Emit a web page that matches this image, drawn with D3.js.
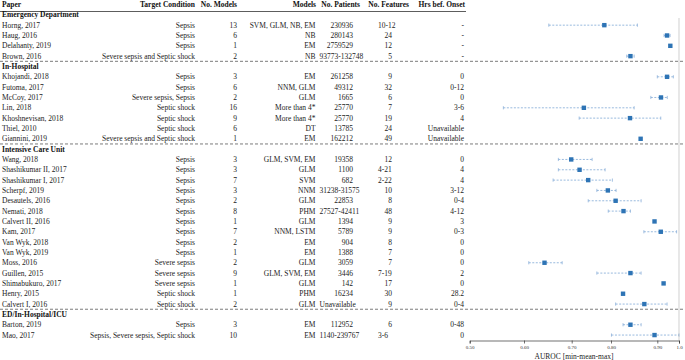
<!DOCTYPE html>
<html>
<head>
<meta charset="utf-8">
<script src="https://cdn.jsdelivr.net/npm/d3@7"></script>
<style>
  body { margin: 0; background: #fff; }
  svg { display: block; font-family: "Liberation Serif", "Times New Roman", serif; }
  .cell { font-size: 7.5px; fill: #222; }
  .hdr { font-size: 7.5px; font-weight: bold; fill: #111; }
  .grp { font-size: 7.5px; font-weight: bold; fill: #111; }
</style>
</head>
<body>
<svg width="685" height="360"></svg>
<script>
// table groups and rows (in drawing order)
let groupNames = ["Emergency Department", "In-Hospital", "Intensive Care Unit", "ED/In-Hospital/ICU"];
let groupSizes = [4, 7, 15, 2];

let papers = ["Horng, 2017", "Haug, 2016", "Delahanty, 2019", "Brown, 2016",
  "Khojandi, 2018", "Futoma, 2017", "McCoy, 2017", "Lin, 2018", "Khoshnevisan, 2018", "Thiel, 2010", "Giannini, 2019",
  "Wang, 2018", "Shashikumar II, 2017", "Shashikumar I, 2017", "Scherpf, 2019", "Desautels, 2016", "Nemati, 2018",
  "Calvert II, 2016", "Kam, 2017", "Van Wyk, 2018", "Van Wyk, 2019", "Moss, 2016", "Guillen, 2015", "Shimabukuro, 2017",
  "Henry, 2015", "Calvert I, 2016",
  "Barton, 2019", "Mao, 2017"];
let conditions = ["Sepsis", "Sepsis", "Sepsis", "Severe sepsis and Septic shock",
  "Sepsis", "Sepsis", "Severe sepsis, Sepsis", "Septic shock", "Septic shock", "Septic shock", "Severe sepsis and Septic shock",
  "Sepsis", "Sepsis", "Sepsis", "Sepsis", "Sepsis", "Sepsis", "Sepsis", "Sepsis", "Sepsis", "Sepsis",
  "Severe sepsis", "Severe sepsis", "Severe sepsis", "Septic shock", "Septic shock",
  "Sepsis", "Sepsis, Severe sepsis, Septic shock"];
let nModels = ["13", "6", "1", "2", "3", "6", "2", "16", "9", "6", "1",
  "3", "3", "7", "3", "2", "8", "1", "7", "2", "1", "2", "9", "1", "1", "2", "3", "10"];
let models = ["SVM, GLM, NB, EM", "NB", "EM", "NB",
  "EM", "NNM, GLM", "GLM", "More than 4*", "More than 4*", "DT", "EM",
  "GLM, SVM, EM", "GLM", "SVM", "NNM", "GLM", "PHM", "GLM", "NNM, LSTM", "EM", "EM", "GLM", "GLM, SVM, EM",
  "GLM", "PHM", "GLM", "EM", "EM"];
let nPatients = ["230936", "280143", "2759529", "93773-132748",
  "261258", "49312", "1665", "25770", "25770", "13785", "162212",
  "19358", "1100", "682", "31238-31575", "22853", "27527-42411", "1394", "5789", "904", "1388", "3059", "3446",
  "142", "16234", "Unavailable", "112952", "1140-239767"];
let nFeatures = ["10-12", "24", "12", "5",
  "9", "32", "6", "7", "19", "24", "49",
  "12", "4-21", "2-22", "10", "8", "48", "9", "9", "8", "7", "7", "7-19", "17", "30", "9", "6", "3-6"];
let hrsOnset = ["-", "-", "-", "-",
  "0", "0-12", "0", "3-6", "4", "Unavailable", "Unavailable",
  "0", "4", "4", "3-12", "0-4", "4-12", "3", "0-3", "0", "0", "0", "2", "0", "28.2", "0-4", "0-48", "0"];

// AUROC min / mean / max (null = not reported)
let aurocMin = [0.652, 0.931, null, 0.834,
  0.900, null, 0.886, 0.562, 0.719, null, null,
  0.672, 0.672, 0.661, 0.764, 0.742, 0.793, null, 0.871, null, null, 0.610, 0.764, null, null, 0.810,
  0.826, 0.801];
let aurocMean = [0.783, 0.945, 0.960, 0.842,
  0.945, null, 0.917, 0.731, 0.841, null, 0.864,
  0.699, 0.720, 0.742, 0.792, 0.810, 0.827, 0.894, 0.916, null, null, 0.643, 0.842, 0.929, 0.826, 0.872,
  0.842, 0.894];
let aurocMax = [0.857, 0.959, null, 0.850,
  0.974, null, 0.946, 0.850, 0.916, null, null,
  0.752, 0.785, 0.803, 0.811, 0.865, 0.842, null, 0.989, null, null, 0.680, 0.865, null, null, 0.945,
  0.865, 1.0];

let xTicks = [0.5, 0.6, 0.7, 0.8, 0.9, 1.0];
let xTickLabels = ["0.50", "0.60", "0.70", "0.80", "0.90", "1.0"];

let svg = d3.select("svg");
let W = +svg.attr("width");

// slot layout: header, then group label + rows for each group
let slots = [];
let r = 0;
groupSizes.forEach(function(n, gi) {
  slots.push({ type: "group", g: gi });
  for (let k = 0; k < n; k++) {
    slots.push({ type: "row", i: r });
    r++;
  }
});
let yScale = d3.scaleLinear().domain([0, slots.length]).range([4.5, 4.5 + slots.length * 10.33]);

// forest plot x scale (axis in the reference is unevenly spaced)
let xScale = d3.scaleLinear().domain(xTicks).range([469.7, 524, 571.7, 611, 657.3, 679]);
let axisY = 340.5;

// column anchors
let cols = [
  { key: "paper", x: 2, anchor: "start", hdr: "Paper", hx: 2, ha: "start" },
  { key: "cond", x: 195, anchor: "end", hdr: "Target Condition", hx: 195, ha: "end" },
  { key: "nm", x: 237, anchor: "end", hdr: "No. Models", hx: 237, ha: "end" },
  { key: "mod", x: 315.5, anchor: "end", hdr: "Models", hx: 316, ha: "end" },
  { key: "np", x: 353, anchor: "end", hdr: "No. Patients", hx: 360, ha: "end" },
  { key: "nf", x: 392, anchor: "end", hdr: "No. Features", hx: 409, ha: "end" },
  { key: "hrs", x: 464, anchor: "end", hdr: "Hrs bef. Onset", hx: 465, ha: "end" }
];

// header
cols.forEach(function(c) {
  svg.append("text").attr("class", "hdr")
    .attr("x", c.hx).attr("y", yScale(0)).attr("dy", "0.35em")
    .attr("text-anchor", c.ha).text(c.hdr);
});
svg.append("line")
  .attr("x1", 0).attr("x2", 466)
  .attr("y1", 11.5).attr("y2", 11.5)
  .attr("stroke", "#333").attr("stroke-width", 0.8);

function cellValue(key, i) {
  if (key == "paper") return papers[i];
  if (key == "cond") return conditions[i];
  if (key == "nm") return nModels[i];
  if (key == "mod") return models[i];
  if (key == "np") return nPatients[i];
  if (key == "nf") return nFeatures[i];
  return hrsOnset[i];
}

let rowsG = svg.append("g");
let plotG = svg.append("g");

slots.forEach(function(s, si) {
  let y = yScale(si + 1);
  if (s.type == "group") {
    rowsG.append("text").attr("class", "grp")
      .attr("x", 2).attr("y", y).attr("dy", "0.35em")
      .text(groupNames[s.g]);
    return;
  }
  cols.forEach(function(c) {
    let v = cellValue(c.key, s.i);
    let x = c.x, a = c.anchor;
    let isText = isNaN(+v);
    // ranges / words are left-aligned like spreadsheet text cells
    if (c.key == "nf" && isText) { x = 378; a = "start"; }
    if (c.key == "np" && isText) { x = 319.5; a = "start"; }
    rowsG.append("text").attr("class", "cell")
      .attr("x", x).attr("y", y).attr("dy", "0.35em")
      .attr("text-anchor", a).text(v);
  });

  let i = s.i;
  if (aurocMin[i] != null) {
    plotG.append("line")
      .attr("x1", xScale(aurocMin[i])).attr("x2", xScale(aurocMax[i]))
      .attr("y1", y).attr("y2", y)
      .attr("stroke", "#7fa8d6").attr("stroke-width", 0.8)
      .attr("stroke-dasharray", "2,1.5");
    [aurocMin[i], aurocMax[i]].forEach(function(v) {
      plotG.append("line")
        .attr("x1", xScale(v)).attr("x2", xScale(v))
        .attr("y1", y - 1.6).attr("y2", y + 1.6)
        .attr("stroke", "#7fa8d6").attr("stroke-width", 0.7);
    });
  }
  if (aurocMean[i] != null) {
    plotG.append("rect")
      .attr("x", xScale(aurocMean[i]) - 2.2).attr("y", y - 2.2)
      .attr("width", 4.4).attr("height", 4.4)
      .attr("fill", "#2e74b5");
  }
});

// dashed separators between groups
let acc = 1;
groupSizes.slice(0, -1).forEach(function(n) {
  acc += n + 1;
  let y = yScale(acc - 0.5);
  svg.append("line")
    .attr("x1", 0).attr("x2", W)
    .attr("y1", y).attr("y2", y)
    .attr("stroke", "#444").attr("stroke-width", 0.7)
    .attr("stroke-dasharray", "3,2");
});

// right border of plot
svg.append("line")
  .attr("x1", xScale(1.0)).attr("x2", xScale(1.0))
  .attr("y1", 18).attr("y2", axisY)
  .attr("stroke", "#bbb").attr("stroke-width", 0.7);

// x axis
let xAxis = d3.axisBottom(xScale)
  .tickValues(xTicks)
  .tickSize(3)
  .tickPadding(2)
  .tickFormat(function(d, k) { return xTickLabels[k]; });
let axG = svg.append("g")
  .attr("transform", "translate(0," + axisY + ")")
  .call(xAxis);
axG.selectAll("path, line").attr("stroke", "#333").attr("stroke-width", 0.7);
axG.selectAll("text").attr("font-family", "Liberation Serif").attr("font-size", 5).attr("fill", "#333");

svg.append("text").attr("class", "cell")
  .attr("x", 574).attr("y", 358.5)
  .attr("text-anchor", "middle")
  .text("AUROC [min-mean-max]");
</script>
</body>
</html>
